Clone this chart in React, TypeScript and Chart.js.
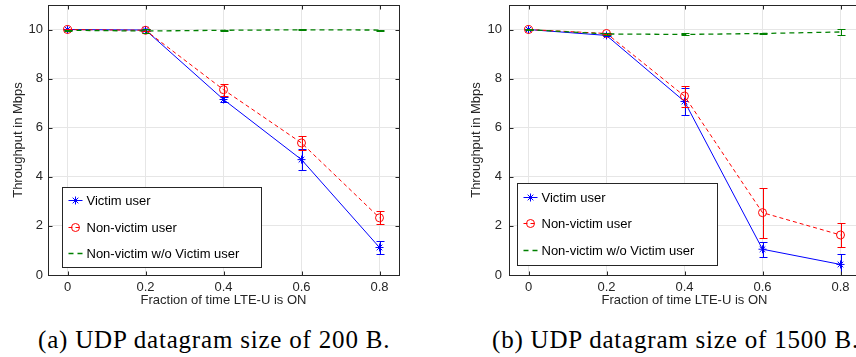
import React, { useEffect, useRef } from "react";
import { Chart, registerables } from "chart.js";

Chart.register(...registerables);

// ---------- data ----------
const fractions = [0, 0.2, 0.4, 0.6, 0.8];
const xTickValues = [0, 0.2, 0.4, 0.6, 0.8];
const yTickValues = [0, 2, 4, 6, 8, 10];
const seriesNames = ["Victim user", "Non-victim user", "Non-victim w/o Victim user"];
const xTitle = "Fraction of time LTE-U is ON";
const yTitle = "Throughput in Mbps";
const captionA = "(a) UDP datagram size of 200 B.";
const captionB = "(b) UDP datagram size of 1500 B.";

// (a) 200 B
const victimA = [10.0, 9.98, 7.15, 4.7, 1.12];
const victimErrA = [0.03, 0.03, 0.1, 0.43, 0.25];
const nonVictimA = [10.0, 9.97, 7.55, 5.38, 2.33];
const nonVictimErrA = [0.03, 0.04, 0.25, 0.3, 0.27];
const aloneA = [9.97, 9.94, 9.97, 9.99, 9.98];
const aloneErrA = [0.02, 0.08, 0.02, 0.02, 0.02];

// (b) 1500 B
const victimB = [10.0, 9.76, 7.07, 1.05, 0.43];
const victimErrB = [0.02, 0.04, 0.56, 0.3, 0.42];
const nonVictimB = [10.0, 9.84, 7.29, 2.54, 1.63];
const nonVictimErrB = [0.02, 0.03, 0.43, 1.02, 0.47];
const aloneB = [10.0, 9.82, 9.8, 9.84, 9.9];
const aloneErrB = [0.01, 0.03, 0.04, 0.03, 0.11];

// ---------- style ----------
const SANS = "'Liberation Sans', Arial, Helvetica, sans-serif";
const AXIS_COLOR = "#262626";
const BLUE = "rgb(0,0,255)";
const RED = "rgb(255,0,0)";
const GREEN = "rgb(0,128,0)";

type PanelCfg = {
  victim: number[]; victimErr: number[];
  nonVictim: number[]; nonVictimErr: number[];
  alone: number[]; aloneErr: number[];
  legendDx: number; legendTop: number; legendW: number; legendH: number;
  yTitlePad: number; yTickPad: number;
};

function drawStar(ctx: CanvasRenderingContext2D, x: number, y: number, r: number) {
  ctx.beginPath();
  for (let k = 0; k < 4; k++) {
    const a = (k * Math.PI) / 4;
    ctx.moveTo(x - r * Math.cos(a), y - r * Math.sin(a));
    ctx.lineTo(x + r * Math.cos(a), y + r * Math.sin(a));
  }
  ctx.stroke();
}

function makePlugin(cfg: PanelCfg) {
  return {
    id: "matlabStyle",
    afterDatasetsDraw(chart: any) {
      const ctx: CanvasRenderingContext2D = chart.ctx;
      const xs = chart.scales.x;
      const ys = chart.scales.y;
      chart.data.datasets.forEach((ds: any) => {
        ctx.save();
        ctx.strokeStyle = ds.borderColor;
        ctx.lineWidth = 1;
        ctx.setLineDash([]);
        ds.data.forEach((p: any, j: number) => {
          const e = ds.errors[j];
          const px = Math.round(xs.getPixelForValue(p.x)) + 0.5;
          const y1 = Math.round(ys.getPixelForValue(p.y - e)) + 0.5;
          const y2 = Math.round(ys.getPixelForValue(p.y + e)) + 0.5;
          ctx.beginPath();
          ctx.moveTo(px, y1); ctx.lineTo(px, y2);
          ctx.moveTo(px - 4, y1); ctx.lineTo(px + 4, y1);
          ctx.moveTo(px - 4, y2); ctx.lineTo(px + 4, y2);
          ctx.stroke();
        });
        ctx.restore();
      });
    },
    afterDraw(chart: any) {
      const ctx: CanvasRenderingContext2D = chart.ctx;
      const a = chart.chartArea;
      const xs = chart.scales.x;
      const ys = chart.scales.y;
      const L = Math.round(a.left) + 0.5, R = Math.round(a.right) + 0.5;
      const T = Math.round(a.top) + 0.5, B = Math.round(a.bottom) + 0.5;
      ctx.save();
      ctx.strokeStyle = AXIS_COLOR;
      ctx.lineWidth = 1;
      ctx.setLineDash([]);
      ctx.strokeRect(L, T, R - L, B - T);
      ctx.beginPath();
      xTickValues.forEach((v) => {
        const px = Math.round(xs.getPixelForValue(v)) + 0.5;
        ctx.moveTo(px, B); ctx.lineTo(px, B - 4);
        ctx.moveTo(px, T); ctx.lineTo(px, T + 4);
      });
      yTickValues.forEach((v) => {
        const py = Math.round(ys.getPixelForValue(v)) + 0.5;
        ctx.moveTo(L, py); ctx.lineTo(L + 4, py);
        ctx.moveTo(R, py); ctx.lineTo(R - 4, py);
      });
      ctx.stroke();

      // legend
      const lx = Math.round(a.left + cfg.legendDx) + 0.5;
      const ly = Math.round(cfg.legendTop) + 0.5;
      ctx.fillStyle = "#ffffff";
      ctx.fillRect(lx, ly, cfg.legendW, cfg.legendH);
      ctx.strokeStyle = AXIS_COLOR;
      ctx.strokeRect(lx, ly, cfg.legendW, cfg.legendH);
      const rows = [13.5, 40, 66.5].map((d) => cfg.legendTop + d * (cfg.legendH / 81));
      const styles = [
        { c: BLUE, dash: [] as number[], m: "star", w: 1 },
        { c: RED, dash: [4, 3], m: "circle", w: 1 },
        { c: GREEN, dash: [5, 4], m: "none", w: 1.3 },
      ];
      ctx.font = `13px ${SANS}`;
      ctx.textBaseline = "middle";
      ctx.textAlign = "left";
      styles.forEach((s, i) => {
        const y = Math.round(rows[i]) + 0.5;
        ctx.strokeStyle = s.c;
        ctx.lineWidth = s.w;
        ctx.setLineDash(s.dash);
        ctx.beginPath();
        ctx.moveTo(lx + 6, y); ctx.lineTo(lx + 20, y);
        ctx.stroke();
        ctx.setLineDash([]);
        ctx.lineWidth = 1;
        if (s.m === "star") drawStar(ctx, lx + 13, y, 4);
        if (s.m === "circle") {
          ctx.beginPath();
          ctx.arc(lx + 13, y, 4, 0, Math.PI * 2);
          ctx.stroke();
        }
        ctx.fillStyle = "#000000";
        ctx.fillText(seriesNames[i], lx + 24, y + 0.5);
      });
      ctx.restore();
    },
  };
}

function pts(ys: number[]) {
  return fractions.map((x, i) => ({ x, y: ys[i] }));
}

function Panel({ cfg, left }: { cfg: PanelCfg; left: number }) {
  const ref = useRef<HTMLCanvasElement | null>(null);
  useEffect(() => {
    if (!ref.current) return;
    const tickFont = { family: SANS, size: 13 };
    const chart = new Chart(ref.current, {
      type: "line",
      data: {
        datasets: [
          {
            label: seriesNames[0], data: pts(cfg.victim), errors: cfg.victimErr,
            borderColor: BLUE, borderWidth: 1, pointStyle: "star", pointRadius: 4,
            pointBorderColor: BLUE, pointBorderWidth: 1, tension: 0, order: 2,
          } as any,
          {
            label: seriesNames[1], data: pts(cfg.nonVictim), errors: cfg.nonVictimErr,
            borderColor: RED, borderWidth: 1, borderDash: [4, 3], pointStyle: "circle", pointRadius: 4,
            pointBorderColor: RED, pointBackgroundColor: "rgba(0,0,0,0)", pointBorderWidth: 1, tension: 0, order: 1,
          } as any,
          {
            label: seriesNames[2], data: pts(cfg.alone), errors: cfg.aloneErr,
            borderColor: GREEN, borderWidth: 1.3, borderDash: [5, 4], pointRadius: 0, tension: 0, order: 0,
          } as any,
        ],
      },
      options: {
        animation: false,
        responsive: false,
        devicePixelRatio: 1,
        layout: { padding: { top: 5, right: 31, bottom: 0, left: 0 } },
        plugins: { legend: { display: false }, tooltip: { enabled: false } },
        scales: {
          x: {
            type: "linear", min: -0.05, max: 0.85,
            afterBuildTicks: (s: any) => { s.ticks = xTickValues.map((v) => ({ value: v })); },
            afterFit: (s: any) => { s.height = 45; s.paddingLeft = 0; s.paddingRight = 0; },
            grid: { color: "#e6e6e6", drawTicks: false, lineWidth: 1 },
            border: { display: false },
            ticks: { padding: 5, color: AXIS_COLOR, font: tickFont, maxRotation: 0, autoSkip: false,
              callback: (v: any) => String(v) },
            title: { display: true, text: xTitle, color: AXIS_COLOR, font: tickFont, padding: { top: 0, bottom: 12 } },
          },
          y: {
            type: "linear", min: 0, max: 11,
            afterBuildTicks: (s: any) => { s.ticks = yTickValues.map((v) => ({ value: v })); },
            afterFit: (s: any) => { s.width = 48; s.paddingTop = 0; s.paddingBottom = 0; },
            grid: { color: "#e6e6e6", drawTicks: false, lineWidth: 1 },
            border: { display: false },
            ticks: { padding: cfg.yTickPad, color: AXIS_COLOR, font: tickFont, autoSkip: false,
              callback: (v: any) => String(v) },
            title: { display: true, text: yTitle, color: AXIS_COLOR, font: tickFont, padding: { top: cfg.yTitlePad, bottom: 0 } },
          },
        },
      } as any,
      plugins: [makePlugin(cfg)],
    });
    return () => chart.destroy();
  }, [cfg]);
  return (
    <div style={{ position: "absolute", left, top: 0, width: 430, height: 320 }}>
      <canvas ref={ref} width={430} height={320} style={{ display: "block" }} />
    </div>
  );
}

const cfgA: PanelCfg = {
  victim: victimA, victimErr: victimErrA, nonVictim: nonVictimA, nonVictimErr: nonVictimErrA,
  alone: aloneA, aloneErr: aloneErrA,
  legendDx: 14, legendTop: 187, legendW: 199, legendH: 80, yTitlePad: 11, yTickPad: 5,
};
const cfgB: PanelCfg = {
  victim: victimB, victimErr: victimErrB, nonVictim: nonVictimB, nonVictimErr: nonVictimErrB,
  alone: aloneB, aloneErr: aloneErrB,
  legendDx: 8, legendTop: 183, legendW: 200, legendH: 82, yTitlePad: 8, yTickPad: 7,
};

const captionStyle: React.CSSProperties = {
  position: "absolute", top: 328, fontFamily: "'Liberation Serif', 'Times New Roman', serif",
  fontSize: 25, lineHeight: "24px", letterSpacing: "0.8px", whiteSpace: "nowrap", color: "#000",
};

export default function App() {
  return (
    <div style={{ position: "fixed", left: 0, top: 0, width: 856, height: 357, overflow: "hidden", background: "#fff" }}>
      <Panel cfg={cfgA} left={0} />
      <Panel cfg={cfgB} left={461} />
      <div style={{ ...captionStyle, left: 38 }}>{captionA}</div>
      <div style={{ ...captionStyle, left: 492 }}>{captionB}</div>
    </div>
  );
}
